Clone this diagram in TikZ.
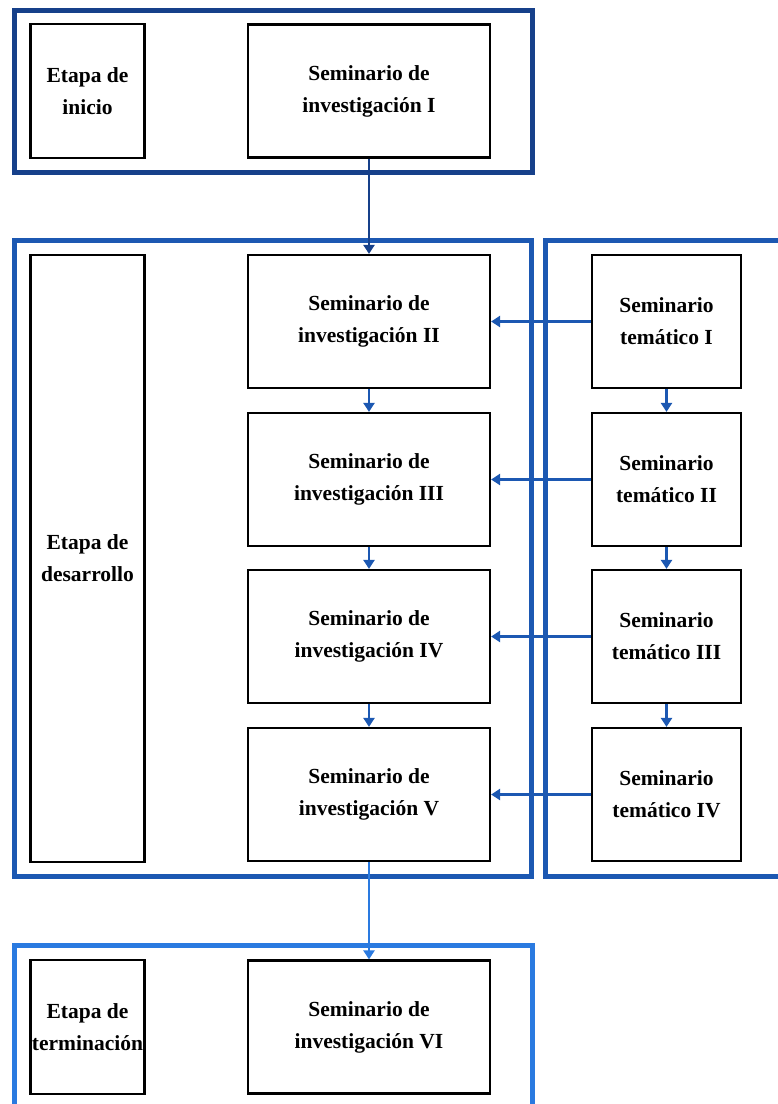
\documentclass[tikz,border=0pt]{standalone}
\usepackage{fontspec}
\setmainfont{Liberation Serif}
\usetikzlibrary{arrows.meta}

\definecolor{navyA}{RGB}{22,64,138}
\definecolor{blueB}{RGB}{28,88,178}
\definecolor{blueC}{RGB}{42,122,224}

\tikzset{
    box/.style={draw=black, line width=2.2pt, fill=white, align=center,
        inner sep=1pt, font=\bfseries\fontsize{21.5}{32}\selectfont},
    stagebox/.style={box, minimum width=114, minimum height=134},
    sembox/.style={box, minimum width=242, minimum height=133},
    tembox/.style={box, minimum width=149, minimum height=133},
    frame/.style={line width=5pt},
    flow/.style={line width=2.4pt, -{Triangle[length=9pt,width=11pt]}}
}

\begin{document}
\begin{tikzpicture}[x=1pt, y=-1pt]
    \clip (0,0) rectangle (778,1104);
    \fill[white] (0,0) rectangle (778,1104);
    % frames of the three stages
    \draw[frame, navyA] (14.5,10.5) rectangle (532.5,172.5);
    \draw[frame, blueB] (14.5,240.5) rectangle (531.5,876.5);
    \draw[frame, blueB] (545.5,240.5) rectangle (810,876.5);
    \draw[frame, blueC] (14.5,945.5) rectangle (532.5,1130);
    % stage names
    \node[stagebox] (inicio) at (87.5,91) {Etapa de\\inicio};
    \node[stagebox, minimum height=607] (desarrollo) at (87.5,558.5) {Etapa de\\desarrollo};
    \node[stagebox] (termino) at (87.5,1027) {Etapa de\\terminación};
    % research seminars
    \node[sembox] (inv1) at (369,91) {Seminario de\\investigación I};
    \node[sembox] (inv2) at (369,321.5) {Seminario de\\investigación II};
    \node[sembox] (inv3) at (369,479.5) {Seminario de\\investigación III};
    \node[sembox] (inv4) at (369,636.5) {Seminario de\\investigación IV};
    \node[sembox] (inv5) at (369,794.5) {Seminario de\\investigación V};
    \node[sembox] (inv6) at (369,1027) {Seminario de\\investigación VI};
    % thematic seminars
    \node[tembox] (tem1) at (666.5,321.5) {Seminario\\temático I};
    \node[tembox] (tem2) at (666.5,479.5) {Seminario\\temático II};
    \node[tembox] (tem3) at (666.5,636.5) {Seminario\\temático III};
    \node[tembox] (tem4) at (666.5,794.5) {Seminario\\temático IV};
    % arrows
    \draw[flow, navyA] (inv1) -- (inv2);
    \foreach \a/\b in {2/3,3/4,4/5}{
        \draw[flow, blueB] (inv\a) -- (inv\b);
    }
    \foreach \a/\b in {1/2,2/3,3/4}{
        \draw[flow, blueB] (tem\a) -- (tem\b);
    }
    \foreach \t/\s in {1/2,2/3,3/4,4/5}{
        \draw[flow, blueB] (tem\t) -- (inv\s);
    }
    \draw[flow, blueC] (inv5) -- (inv6);
\end{tikzpicture}
\end{document}
